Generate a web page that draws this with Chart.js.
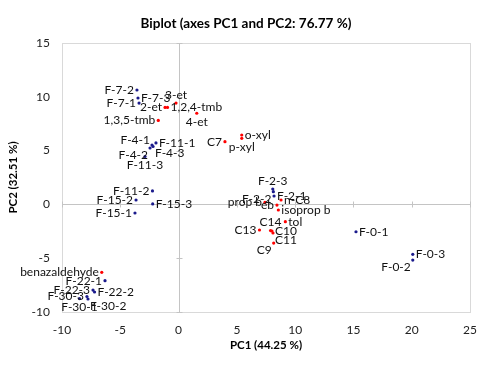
<!DOCTYPE html>
<html>
<head>
<meta charset="utf-8">
<title>Biplot</title>
<script src="https://cdn.jsdelivr.net/npm/chart.js"></script>
<style>
  html, body { margin: 0; padding: 0; background: #fff; }
  #chart { display: block; }
</style>
</head>
<body>
<canvas id="chart" width="500" height="374"></canvas>
<script>
// observations (blue)
const obsNames = ['F-7-2', 'F-7-3', 'F-7-1', 'F-4-1', 'F-4-2', 'F-11-1', 'F-4-3', 'F-11-3',
  'F-11-2', 'F-15-2', 'F-15-3', 'F-15-1', 'F-2-3', 'F-2-2', 'F-2-1', 'F-0-1', 'F-0-3', 'F-0-2',
  'F-22-1', 'F-22-3', 'F-22-2', 'F-30-3', 'F-30-1', 'F-30-2'];
const obsPC1 = [-3.57, -3.48, -3.39, -2.28, -2.45, -1.94, -2.19, -2.88,
  -2.24, -3.65, -2.22, -3.74, 8.08, 8.13, 8.19, 15.22, 20.09, 20.09,
  -6.31, -7.34, -7.21, -7.86, -8.50, -7.77];
const obsPC2 = [10.63, 9.89, 9.42, 5.52, 5.24, 5.71, 5.38, 4.45,
  1.25, 0.41, 0.04, -0.80, 1.43, 1.18, 0.78, -2.54, -4.64, -5.17,
  -7.09, -7.96, -8.14, -8.56, -8.75, -8.79];

// variables (red)
const varNames = ['1,3,5-tmb', '2-et', '1,2,4-tmb', '3-et', '4-et', 'C7', 'o-xyl', 'p-xyl',
  'prop b', 'eb', 'n-C8', 'isoprop b', 'tol', 'C14', 'C13', 'C10', 'C11', 'C9', 'benazaldehyde'];
const varPC1 = [-1.74, -1.16, -0.95, -0.22, 1.56, 3.98, 5.42, 5.42,
  7.41, 8.44, 8.79, 8.56, 9.16, 7.89, 6.94, 8.01, 8.10, 8.16, -6.59];
const varPC2 = [7.80, 9.01, 9.01, 9.42, 8.47, 5.83, 6.45, 6.14,
  0.18, -0.06, 0.41, -0.52, -1.61, -2.43, -2.38, -2.47, -2.66, -3.59, -6.31];

const xTicks = [-10, -5, 0, 5, 10, 15, 20, 25];
const yTicks = [-10, -5, 0, 5, 10, 15];

const chartTitle = 'Biplot (axes PC1 and PC2: 76.77 %)';

// where each label sits relative to its point
const obsAnchor = ['l', 'r', 'l', 'tl', 'bl', 'r', 'br', 'b',
  'l', 'l', 'r', 'l', 't', 'bl', 'r', 'r', 'r', 'bl',
  'l', 'l', 'r', 'l', 'b', 'br'];
const varAnchor = ['l', 'l', 'r', 't', 'b', 'l', 'r', 'b',
  'l', 'l', 'r', 'r', 'r', 't', 'l', 'r', 'br', 'bl', 'l'];

const FONT = 'Lato, "Open Sans", sans-serif';

function toPoints(xs, ys) {
  return xs.map((x, i) => ({ x: x, y: ys[i] }));
}

const anchorOffsets = {
  r: [3, 0, 'left'], l: [-3, 0, 'right'],
  t: [0, -8, 'center'], b: [0, 9, 'center'],
  tr: [2, -5, 'left'], tl: [-2, -5, 'right'],
  br: [2, 7, 'left'], bl: [-2, 7, 'right']
};

const framePlugin = {
  id: 'frame',
  beforeDatasetsDraw(chart) {
    const { ctx, chartArea: a, scales } = chart;
    const x0 = Math.round(scales.x.getPixelForValue(0)) + 0.5;
    const y0 = Math.round(scales.y.getPixelForValue(0)) + 0.5;
    ctx.save();
    ctx.lineWidth = 1;
    ctx.strokeStyle = '#d9d9d9';
    ctx.strokeRect(Math.round(a.left) + 0.5, Math.round(a.top) + 0.5,
      Math.round(a.right - a.left), Math.round(a.bottom - a.top));
    ctx.strokeStyle = '#c4c4c4';
    ctx.beginPath();
    ctx.moveTo(x0, a.top); ctx.lineTo(x0, a.bottom);
    ctx.moveTo(a.left, y0); ctx.lineTo(a.right, y0);
    xTicks.forEach(v => {
      const px = Math.round(scales.x.getPixelForValue(v)) + 0.5;
      ctx.moveTo(px, y0 - 3); ctx.lineTo(px, y0 + 3);
    });
    yTicks.forEach(v => {
      const py = Math.round(scales.y.getPixelForValue(v)) + 0.5;
      ctx.moveTo(x0 - 3, py); ctx.lineTo(x0 + 3, py);
    });
    ctx.stroke();
    // title, centred on the page like the original
    ctx.fillStyle = '#000';
    ctx.font = 'bold 13.5px ' + FONT;
    ctx.textAlign = 'center';
    ctx.textBaseline = 'middle';
    ctx.fillText(chartTitle, 246, 24);
    ctx.restore();
  }
};

const labelPlugin = {
  id: 'pointLabels',
  afterDatasetsDraw(chart) {
    const ctx = chart.ctx;
    ctx.save();
    ctx.font = '12px ' + FONT;
    ctx.fillStyle = '#111';
    ctx.textBaseline = 'middle';
    chart.data.datasets.forEach((ds, i) => {
      const meta = chart.getDatasetMeta(i);
      meta.data.forEach((pt, j) => {
        const off = anchorOffsets[ds.anchors[j]] || anchorOffsets.r;
        ctx.textAlign = off[2];
        ctx.fillText(ds.names[j], pt.x + off[0], pt.y + off[1]);
      });
    });
    ctx.restore();
  }
};

new Chart(document.getElementById('chart'), {
  type: 'scatter',
  data: {
    datasets: [
      {
        label: 'Observations',
        data: toPoints(obsPC1, obsPC2),
        names: obsNames,
        anchors: obsAnchor,
        backgroundColor: '#1a1a8c',
        borderWidth: 0,
        pointRadius: 1.6
      },
      {
        label: 'Variables',
        data: toPoints(varPC1, varPC2),
        names: varNames,
        anchors: varAnchor,
        backgroundColor: '#ff0000',
        borderWidth: 0,
        pointRadius: 1.6
      }
    ]
  },
  options: {
    responsive: false,
    animation: false,
    layout: { padding: { left: 0, right: 30, top: 43, bottom: 0 } },
    plugins: {
      legend: { display: false },
      tooltip: { enabled: false },
      title: { display: false }
    },
    scales: {
      x: {
        type: 'linear',
        min: -10,
        max: 25,
        afterBuildTicks: s => { s.ticks = xTicks.map(v => ({ value: v })); },
        afterFit: s => { s.height = 62; },
        grid: { display: false, drawTicks: false },
        border: { display: false },
        ticks: { color: '#222', padding: 11, font: { family: FONT, size: 12 } },
        title: {
          display: true,
          text: 'PC1 (44.25 %)',
          color: '#000',
          font: { family: FONT, size: 11.5, weight: 'bold' },
          padding: { top: 0, bottom: 22 }
        }
      },
      y: {
        type: 'linear',
        min: -10,
        max: 15,
        afterBuildTicks: s => { s.ticks = yTicks.map(v => ({ value: v })); },
        afterFit: s => { s.width = 62; },
        grid: { display: false, drawTicks: false },
        border: { display: false },
        ticks: { color: '#222', padding: 12, font: { family: FONT, size: 12 } },
        title: {
          display: true,
          text: 'PC2 (32.51 %)',
          color: '#000',
          font: { family: FONT, size: 11.5, weight: 'bold' },
          padding: { top: 6, bottom: 0 }
        }
      }
    }
  },
  plugins: [framePlugin, labelPlugin]
});
</script>
</body>
</html>
